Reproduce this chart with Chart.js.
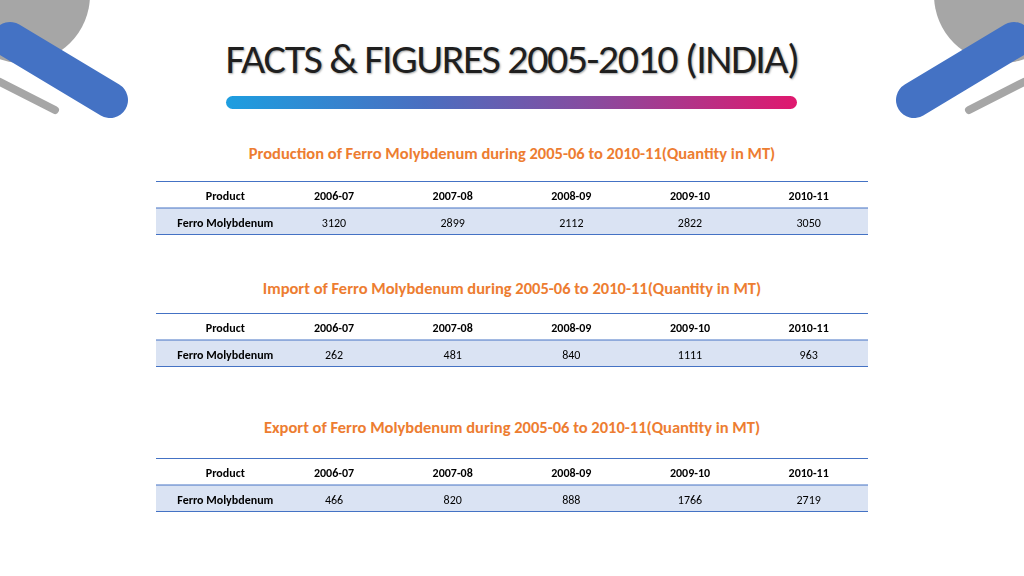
<!DOCTYPE html>
<html lang="en">
<head>
<meta charset="UTF-8">
<title>Facts & Figures 2005-2010 (India)</title>
<script src="https://cdn.jsdelivr.net/npm/chart.js@4.4.0/dist/chart.umd.min.js"></script>
<style>
  body { margin: 0; width: 1024px; height: 576px; background: #fff; font-family: Calibri, Carlito, Lato, sans-serif; overflow: hidden; position: relative; }
  h1 { position: absolute; top: 33px; left: 0; width: 1024px; margin: 0; text-align: center; font-weight: normal; font-size: 42px; color: #1f1f1f; letter-spacing: -1.5px; text-shadow: 1px 1px 2px rgba(0,0,0,0.35); }
  .bar { position: absolute; left: 226px; top: 96px; width: 571px; height: 13px; border-radius: 7px; background: linear-gradient(90deg, #1d9ee0, #4a6ec0 35%, #8a4a9e 65%, #e0186e); }
  .ttl { position: absolute; left: 0; width: 1024px; text-align: center; color: #ed7d31; font-weight: bold; font-size: 16.5px; }
  .tbl { position: absolute; left: 156px; width: 712px; height: 54px; }
  svg { position: absolute; top: 0; left: 0; }
</style>
</head>
<body>
<svg width="1024" height="576">
  <circle cx="22" cy="-5" r="68" fill="#a6a6a6"/>
  <line x1="10" y1="40" x2="110" y2="100" stroke="#4472c4" stroke-width="36" stroke-linecap="round"/>
  <line x1="0" y1="82" x2="55" y2="110" stroke="#a6a6a6" stroke-width="8" stroke-linecap="round"/>
  <circle cx="1002" cy="-5" r="68" fill="#a6a6a6"/>
  <line x1="1014" y1="40" x2="914" y2="100" stroke="#4472c4" stroke-width="36" stroke-linecap="round"/>
  <line x1="1024" y1="82" x2="969" y2="110" stroke="#a6a6a6" stroke-width="8" stroke-linecap="round"/>
</svg>
<h1>FACTS &amp; FIGURES 2005-2010 (INDIA)</h1>
<div class="bar"></div>

<div class="ttl" style="top:143px">Production of Ferro Molybdenum during 2005-06 to 2010-11(Quantity in MT)</div>
<div class="tbl" style="top:181px"><canvas id="t1"></canvas></div>
<div class="ttl" style="top:278px">Import of Ferro Molybdenum during 2005-06 to 2010-11(Quantity in MT)</div>
<div class="tbl" style="top:313px"><canvas id="t2"></canvas></div>
<div class="ttl" style="top:417px">Export of Ferro Molybdenum during 2005-06 to 2010-11(Quantity in MT)</div>
<div class="tbl" style="top:458px"><canvas id="t3"></canvas></div>

<script>
const columns = ['Product', '2006-07', '2007-08', '2008-09', '2009-10', '2010-11'];
const product = 'Ferro Molybdenum';
const production = [3120, 2899, 2112, 2822, 3050];
const imports = [262, 481, 840, 1111, 963];
const exports = [466, 820, 888, 1766, 2719];

const FONT = '12px Calibri, Carlito, Lato, sans-serif';

const tablePlugin = {
    id: 'tableCells',
    beforeDraw(chart) {
        const { ctx, chartArea: a } = chart;
        const mid = (a.top + a.bottom) / 2;
        ctx.save();
        ctx.fillStyle = '#dae3f3';
        ctx.fillRect(a.left, mid, a.right - a.left, a.bottom - mid);
        ctx.strokeStyle = '#4472c4';
        ctx.lineWidth = 1;
        [a.top + 0.5, mid, a.bottom - 0.5].forEach(y => {
            ctx.beginPath(); ctx.moveTo(a.left, y); ctx.lineTo(a.right, y); ctx.stroke();
        });
        ctx.restore();
    },
    afterDraw(chart) {
        const { ctx } = chart;
        const xs = chart.scales.x, ys = chart.scales.y;
        const row = chart.data.datasets[0].data;
        ctx.save();
        ctx.textAlign = 'center';
        ctx.textBaseline = 'middle';
        ctx.fillStyle = '#000';
        columns.forEach((c, i) => {
            const x = xs.getPixelForValue(i) + (i === 0 ? 10 : 0);
            ctx.font = 'bold ' + FONT;
            ctx.fillText(c, x, ys.getPixelForValue(0) + 2);
            ctx.font = (i === 0 ? 'bold ' : '') + FONT;
            ctx.fillText(i === 0 ? product : String(row[i - 1]), x, ys.getPixelForValue(1) + 2);
        });
        ctx.restore();
    }
};

function makeTable(id, values) {
    new Chart(document.getElementById(id), {
        type: 'scatter',
        data: { datasets: [{ data: values, pointRadius: 0 }] },
        options: {
            responsive: true,
            maintainAspectRatio: false,
            animation: false,
            events: [],
            layout: { padding: 0 },
            plugins: { legend: { display: false }, tooltip: { enabled: false } },
            scales: {
                x: { type: 'category', labels: columns, offset: true, display: false },
                y: { type: 'category', labels: ['head', 'data'], offset: true, display: false }
            }
        },
        plugins: [tablePlugin]
    });
}

makeTable('t1', production);
makeTable('t2', imports);
makeTable('t3', exports);
</script>
</body>
</html>
